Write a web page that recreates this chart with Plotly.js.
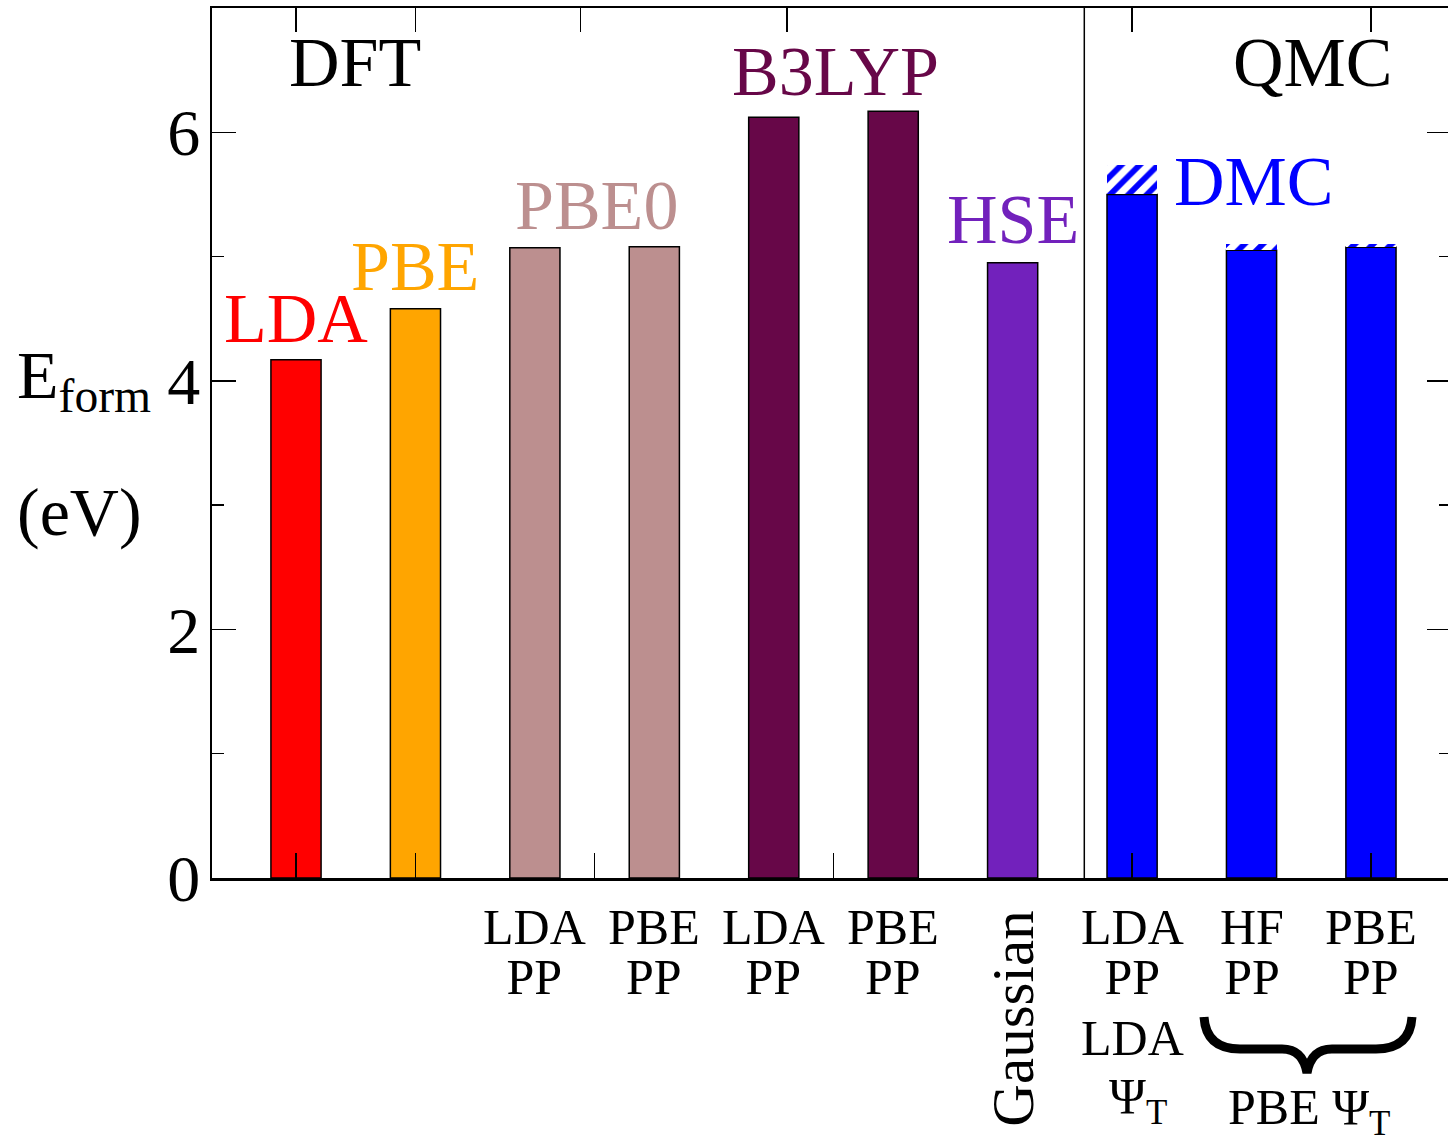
<!DOCTYPE html>
<html>
<head>
<meta charset="utf-8">
<script src="https://cdn.plot.ly/plotly-3.0.1.min.js"></script>
<style>
html,body{margin:0;padding:0;overflow:hidden;background:#fff;}
#chart{width:1451px;height:1147px;}
</style>
</head>
<body>
<div id="chart"></div>
<script>
// ---- data ----
const xPos = [1, 2, 3, 4, 5, 6, 7, 8, 9, 10];
const eForm = [4.17, 4.58, 5.07, 5.08, 6.12, 6.17, 4.95, 5.50, 5.05, 5.075];
const barColors = ['#FF0000','#FFA500','#BC8F8F','#BC8F8F','#670748','#670748','#7221BC','#0000FF','#0000FF','#0000FF'];
const dmcX = [8, 9, 10];
const dmcValue = [5.50, 5.05, 5.075];
const dmcUpper = [5.74, 5.10, 5.10];
const row1Labels = ['', '', 'LDA', 'PBE', 'LDA', 'PBE', '', 'LDA', 'HF', 'PBE'];
const row2Labels = ['', '', 'PP', 'PP', 'PP', 'PP', '', 'PP', 'PP', 'PP'];
const methodNames = ['LDA', 'PBE', 'PBE0', 'B3LYP', 'HSE', 'DMC'];
const methodColors = ['#FF0000', '#FFA500', '#BC8F8F', '#670748', '#7221BC', '#0000FF'];
const yTickVals = [0, 2, 4, 6];
const bottomTickVals = [1, 2, 3.5, 5.5, 8, 10];
const topTickVals = [1, 2, 3.38, 5.11, 8, 10];

// ---- geometry helpers (layout only) ----
const W = 1451, H = 1147;
const L = 212, T = 8, B = 878;
const unit = 119.44, x1px = 296;
const xr = [1 - (x1px - L) / unit, 1 + (W - x1px) / unit];
const px2x = p => 1 + (p - x1px) / unit;
const px2py = p => (B - p) / (B - T);
const px2pxp = p => (p - L) / (W - L);

const FONT = 'Liberation Serif, Times New Roman, serif';

const traces = [
  {
    type: 'bar', x: xPos, y: eForm, width: 0.42,
    marker: {color: barColors, line: {color: '#000', width: 1.5}},
    hoverinfo: 'x+y', showlegend: false
  },
  {
    type: 'bar', x: dmcX, base: dmcValue,
    y: dmcUpper.map((u, i) => u - dmcValue[i]), width: 0.42,
    marker: {color: '#FFFFFF', line: {width: 0},
      pattern: {shape: '/', fgcolor: '#0000FF', bgcolor: '#FFFFFF', size: 13, solidity: 0.45}},
    hoverinfo: 'skip', showlegend: false
  },
  {type: 'scatter', x: [], y: [], xaxis: 'x2', yaxis: 'y', showlegend: false, hoverinfo: 'skip'}
];

const annotations = [];
function ann(text, x, xref, yPx, size, color, extra) {
  annotations.push(Object.assign({
    text: text, x: x, xref: xref, y: px2py(yPx), yref: 'paper',
    showarrow: false, xanchor: 'center', yanchor: 'middle',
    font: {family: FONT, size: size, color: color}
  }, extra || {}));
}
// two-line label: glyphs at `glyph` px, line pitch of `pitch` px
function twoLine(a, b, glyph, pitch) {
  const s = t => '<span style="font-size:' + glyph + 'px">' + t + '</span>';
  return {text: s(a) + '<br>' + s(b), size: pitch / 1.3};
}
// group headers
ann('DFT', px2x(355), 'x', 62, 70, '#000');
ann('QMC', px2x(1312), 'x', 62, 70, '#000');
// method labels
const methodPos = [[296, 318], [415, 266], [596, 205], [835, 71], [1013, 220], [1253, 181]];
methodNames.forEach((m, i) => ann(m, px2x(methodPos[i][0]), 'x', methodPos[i][1], 70, methodColors[i]));
// category rows under the axis
xPos.forEach((x, i) => {
  if (row1Labels[i]) {
    const t = twoLine(row1Labels[i], row2Labels[i], 50, 50);
    ann(t.text, x, 'x', 952, t.size, '#000');
  }
});
ann('Gaussian', 7, 'x', 1019, 59, '#000', {textangle: -90});
ann('LDA', 8, 'x', 1038, 50, '#000');
ann('Ψ<sub>T</sub>', px2x(1138), 'x', 1100, 50, '#000');
ann('PBE Ψ<sub>T</sub>', px2x(1309), 'x', 1111, 50, '#000');
// y-axis title
ann('E<sub>form</sub>', px2pxp(15), 'paper', 380, 68, '#000', {xanchor: 'left'});
ann('(eV)', px2pxp(15), 'paper', 512, 68, '#000', {xanchor: 'left'});

// brace below the PBE trial-wavefunction group
const bracePts = [
  ['M', 1204, 1017], ['Q', 1206, 1049, 1240, 1049], ['L', 1282, 1049],
  ['Q', 1303, 1049, 1307, 1073], ['Q', 1311, 1049, 1332, 1049], ['L', 1376, 1049],
  ['Q', 1410, 1049, 1412, 1017]
];
const bracePath = bracePts.map(s => {
  let out = s[0];
  for (let k = 1; k < s.length; k += 2) out += ' ' + px2pxp(s[k]).toFixed(5) + ',' + px2py(s[k + 1]).toFixed(5);
  return out;
}).join(' ');

const layout = {
  width: W, height: H,
  margin: {l: L, r: 0, t: T, b: H - B, pad: 0},
  paper_bgcolor: '#fff', plot_bgcolor: '#fff',
  barmode: 'overlay', bargap: 0,
  showlegend: false,
  font: {family: FONT, color: '#000'},
  xaxis: {
    range: xr, showgrid: false, zeroline: false,
    showline: true, linecolor: '#000', linewidth: 2.5, mirror: false,
    tickmode: 'array', tickvals: bottomTickVals, ticks: 'inside', ticklen: 25, tickwidth: 1.5, tickcolor: '#000',
    showticklabels: false
  },
  xaxis2: {
    overlaying: 'x', side: 'top', anchor: 'y', range: xr, showgrid: false, zeroline: false,
    showline: true, linecolor: '#000', linewidth: 2.5,
    tickmode: 'array', tickvals: topTickVals, ticks: 'inside', ticklen: 24, tickwidth: 1.5, tickcolor: '#000',
    showticklabels: false
  },
  yaxis: {
    range: [0, 7], showgrid: false, zeroline: false,
    showline: true, linecolor: '#000', linewidth: 2.5, mirror: 'ticks',
    tickmode: 'array', tickvals: yTickVals, ticks: 'inside', ticklen: 24, tickwidth: 1.5, tickcolor: '#000',
    minor: {dtick: 1, ticks: 'inside', ticklen: 12, tickwidth: 1.5, tickcolor: '#000', showgrid: false},
    tickfont: {family: FONT, size: 66, color: '#000'},
    ticklabelstandoff: -4
  },
  shapes: [
    {type: 'line', xref: 'x', yref: 'paper', x0: 7.6, x1: 7.6, y0: 0, y1: 1, line: {color: '#000', width: 1.5}},
    {type: 'path', xref: 'paper', yref: 'paper', path: bracePath, line: {color: '#000', width: 9}, fillcolor: 'rgba(0,0,0,0)'}
  ],
  annotations: annotations
};

Plotly.newPlot('chart', traces, layout, {displayModeBar: false, staticPlot: true});
</script>
</body>
</html>
